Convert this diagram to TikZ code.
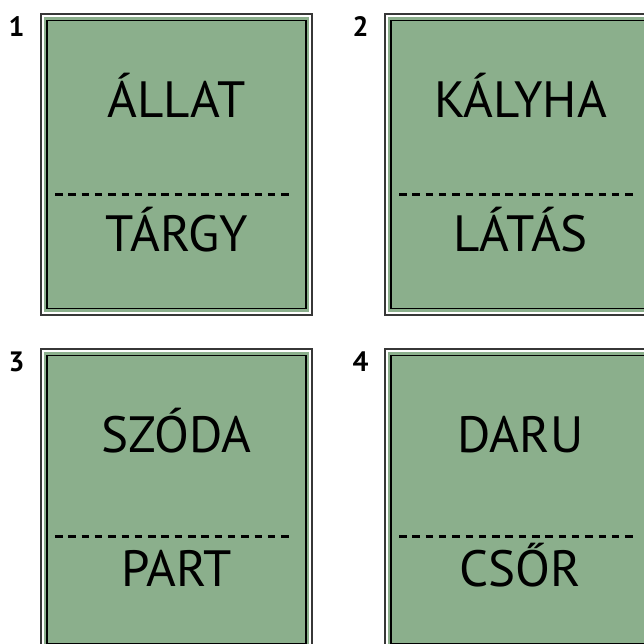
\documentclass[tikz,border=0pt]{standalone}
\usepackage{fontspec}
\setmainfont{PT Sans}
\usetikzlibrary{positioning}

\definecolor{cardgreen}{RGB}{139,175,140}
\definecolor{framegray}{RGB}{55,55,55}

\tikzset{
  frame/.style  = {draw=framegray, line width=2pt, fill=white, minimum width=271pt, minimum height=301pt, inner sep=0pt},
  panel/.style  = {fill=cardgreen, minimum width=265pt, minimum height=295pt, inner sep=0pt},
  border/.style = {draw=black, line width=1.8pt, minimum width=258.5pt, minimum height=288pt, inner sep=0pt},
  word/.style   = {anchor=base, font=\fontsize{51}{51}\selectfont, inner sep=0pt},
  num/.style    = {anchor=base, font=\fontsize{28}{28}\selectfont\bfseries, inner sep=0pt},
  cut/.style    = {line width=3pt, dash pattern=on 7.5pt off 5.8pt}
}

\begin{document}
\begin{tikzpicture}[x=1pt, y=-1pt]
    \useasboundingbox (0,0) rectangle (644,643);
    \clip (0,0) rectangle (644,643);

    % cards: number / x / y / upper word / lower word / dash y
    \foreach \n/\x/\y/\up/\low/\d in {1/0/0/ÁLLAT/TÁRGY/194, 2/344/0/KÁLYHA/LÁTÁS/194,
                                      3/0/335/SZÓDA/PART/536, 4/344/335/DARU/CSŐR/536} {
        \node (c\n) [frame]  at (176.5+\x,164.5+\y) {};
        \node (p\n) [panel]  at (c\n) {};
        \node (b\n) [border] at (c\n) {};
        \node (u\n) [word]   at (176.5+\x,117+\y) {\up};
        \node (l\n) [word]   at (176.5+\x,251+\y) {\low};
        \node (n\n) [num]    at (16.5+\x,36+\y) {\n};
        \coordinate (dl\n) at (55+\x,\d);
        \coordinate (dr\n) at (293+\x,\d);
        \draw[cut] (dl\n) -- (dr\n);
    }
\end{tikzpicture}
\end{document}
